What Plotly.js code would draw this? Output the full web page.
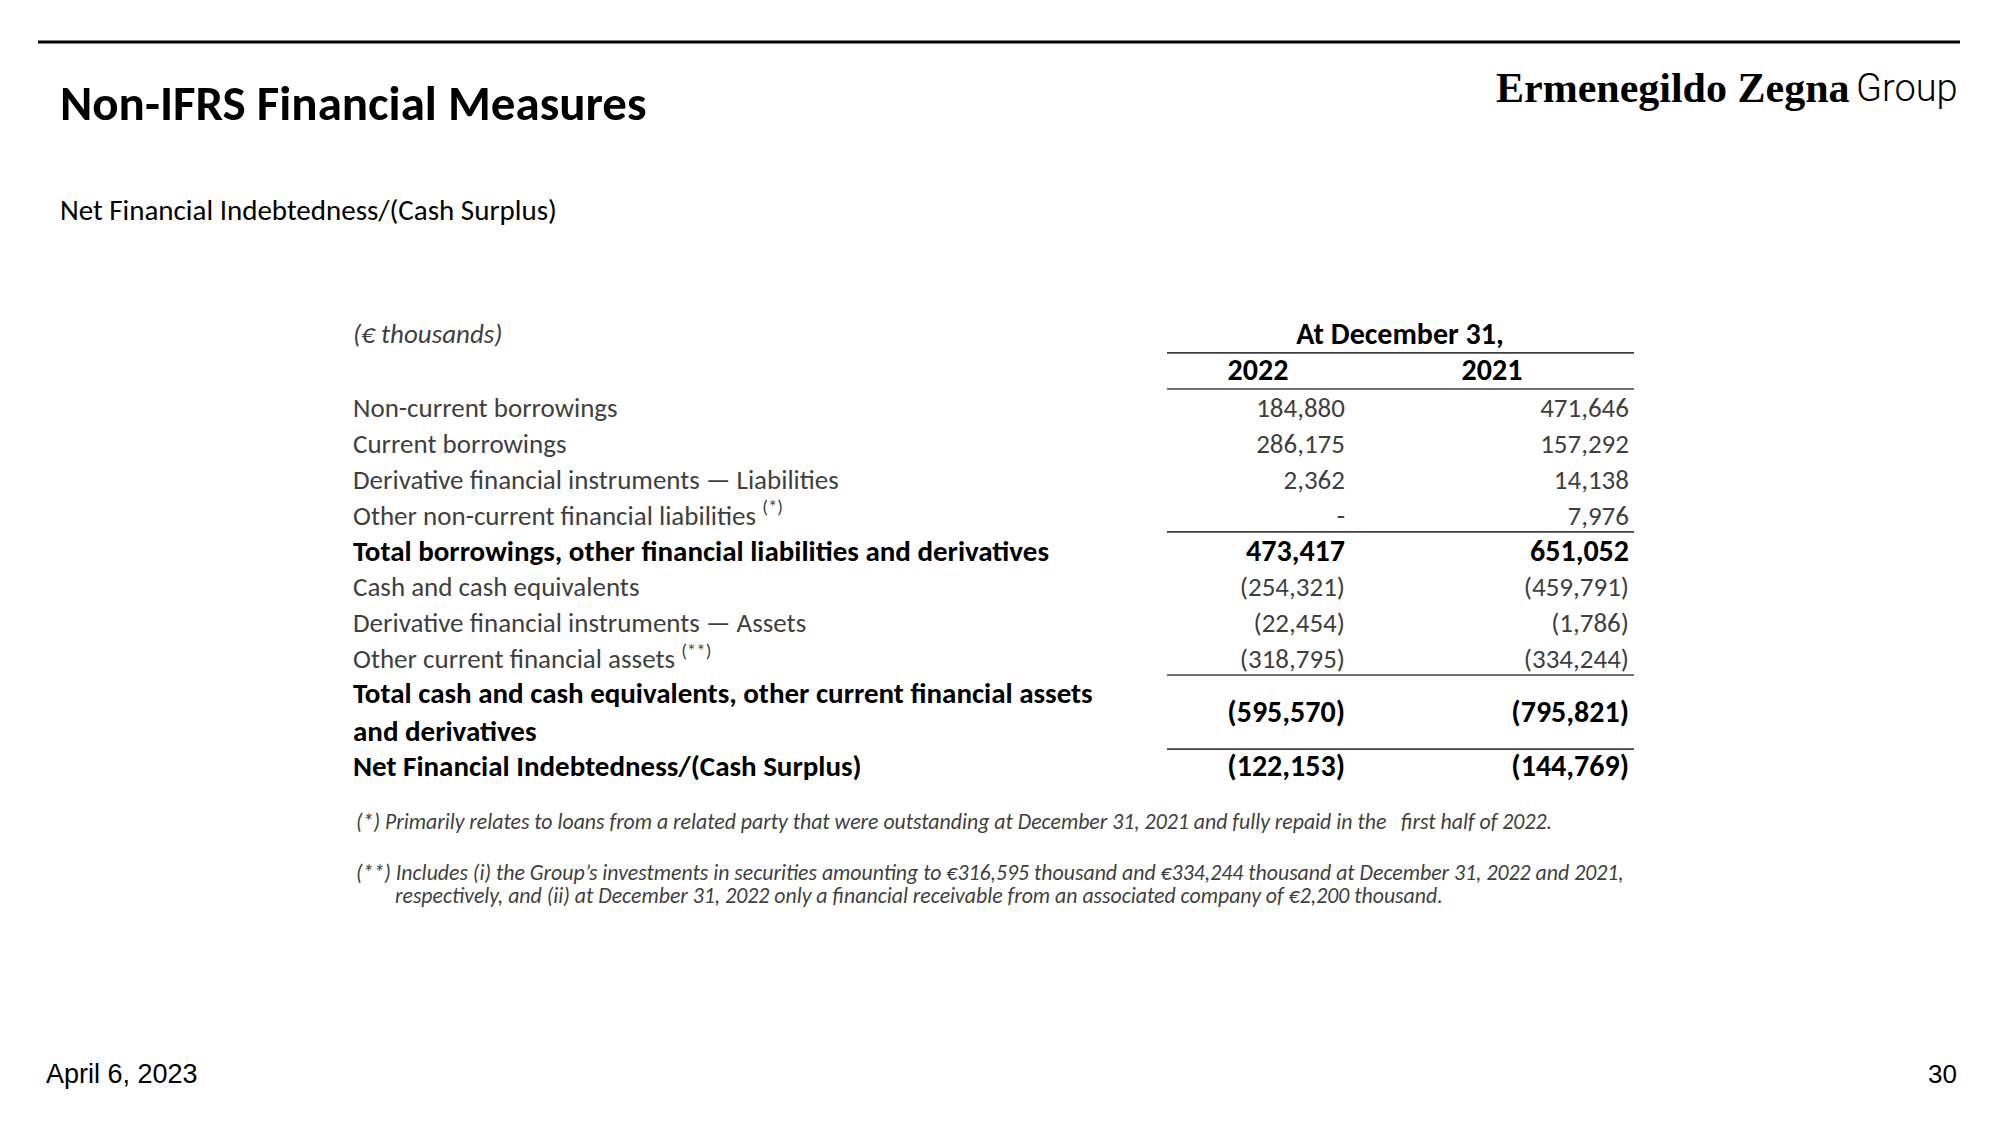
<!DOCTYPE html>
<html>
<head>
<meta charset="utf-8">
<script src="https://cdn.plot.ly/plotly-3.0.1.min.js"></script>
<style>body{margin:0;background:#fff}</style>
</head>
<body>
<div id="chart" style="width:2000px;height:1125px"></div>
<script>
// table content (€ thousands)
var rowLabels = [
    'Non-current borrowings',
    'Current borrowings',
    'Derivative financial instruments \u2014 Liabilities',
    'Other non-current financial liabilities <sup>(*)</sup>',
    'Total borrowings, other financial liabilities and derivatives',
    'Cash and cash equivalents',
    'Derivative financial instruments \u2014 Assets',
    'Other current financial assets <sup>(**)</sup>',
    'Total cash and cash equivalents, other current financial assets<br>and derivatives',
    'Net Financial Indebtedness/(Cash Surplus)'
];
var rowBold = [false, false, false, false, true, false, false, false, true, true];
var rowPos = [0, 1, 2, 3, 4, 5, 6, 7, 8.5, 10];
var years = ['2022', '2021'];
var values2022 = [184880, 286175, 2362, null, 473417, -254321, -22454, -318795, -595570, -122153];
var values2021 = [471646, 157292, 14138, 7976, 651052, -459791, -1786, -334244, -795821, -144769];
var ruleRows = [-1.61, -0.60, 3.39, 7.39, 9.46];

var note1 = '(*) Primarily relates to loans from a related party that were outstanding at December 31, 2021 and fully repaid in the   first half of 2022.';
var note2a = '(**) Includes (i) the Group\u2019s investments in securities amounting to \u20ac316,595 thousand and \u20ac334,244 thousand at December 31, 2022 and 2021,';
var note2b = 'respectively, and (ii) at December 31, 2022 only a financial receivable from an associated company of \u20ac2,200 thousand.';

var FONT = 'Carlito, Calibri, Lato, sans-serif';
var GREY = '#3f3f3f';

function fmt(v) {
    if (v === null) return '-';
    var s = Math.abs(v).toLocaleString('en-US');
    return v < 0 ? '(' + s + ')' : s;
}
function wrap(t, b) { return b ? '<b>' + t + '</b>' : t; }
function colors() { return rowBold.map(function(b) { return b ? '#000' : GREY; }); }
function sizes(reg, bld) { return rowBold.map(function(b) { return b ? bld : reg; }); }

var labelX = 353, col1X = 1345, col2X = 1629, yearX = [1258, 1492];

var labels = {
    type: 'scatter', mode: 'text',
    x: rowLabels.map(function() { return labelX; }),
    y: rowPos,
    text: rowLabels.map(function(t, i) { return wrap(t, rowBold[i]); }),
    textposition: 'middle right',
    textfont: {family: FONT, size: sizes(27, 29), color: colors()},
    hoverinfo: 'skip'
};
var col1 = {
    type: 'scatter', mode: 'text',
    x: rowPos.map(function() { return col1X; }),
    y: rowPos,
    text: values2022.map(function(v, i) { return wrap(fmt(v), rowBold[i]); }),
    textposition: 'middle left',
    textfont: {family: FONT, size: sizes(27, 30), color: colors()},
    hoverinfo: 'skip'
};
var col2 = {
    type: 'scatter', mode: 'text',
    x: rowPos.map(function() { return col2X; }),
    y: rowPos,
    text: values2021.map(function(v, i) { return wrap(fmt(v), rowBold[i]); }),
    textposition: 'middle left',
    textfont: {family: FONT, size: sizes(27, 30), color: colors()},
    hoverinfo: 'skip'
};
var header = {
    type: 'scatter', mode: 'text',
    x: [labelX, 1400, yearX[0], yearX[1]],
    y: [-2.08, -2.08, -1.05, -1.05],
    text: ['<i>(\u20ac thousands)</i>', '<b>At December 31,</b>', '<b>' + years[0] + '</b>', '<b>' + years[1] + '</b>'],
    textposition: ['middle right', 'middle center', 'middle center', 'middle center'],
    textfont: {family: FONT, size: [27, 30, 30, 30], color: [GREY, '#000', '#000', '#000']},
    hoverinfo: 'skip'
};

function px(x) { return x / 2000; }
function py(y) { return 1 - y / 1125; }

var shapes = ruleRows.map(function(r) {
    return {type: 'line', xref: 'x', yref: 'y', x0: 1167, x1: 1634, y0: r, y1: r,
            line: {color: '#404040', width: 1.6}};
});
shapes.push({type: 'line', xref: 'paper', yref: 'paper', x0: px(38), x1: px(1960), y0: py(42), y1: py(42),
             line: {color: '#000', width: 3}});

var annotations = [
    {text: '<b>Non-IFRS Financial Measures</b>', x: px(58), y: py(103), xanchor: 'left', yanchor: 'middle',
     font: {family: FONT, size: 49, color: '#000'}},
    {text: 'Net Financial Indebtedness/(Cash Surplus)', x: px(58), y: py(210), xanchor: 'left', yanchor: 'middle',
     font: {family: FONT, size: 29, color: '#000'}},
    {text: '<b>Ermenegildo Zegna</b>', x: px(1852), y: py(88), xanchor: 'right', yanchor: 'middle',
     font: {family: 'Liberation Serif, serif', size: 42, color: '#000'}},
    {text: 'Group', x: px(1960), y: py(88), xanchor: 'right', yanchor: 'middle',
     font: {family: 'Roboto, sans-serif', size: 38, color: '#000', weight: 300}},
    {text: '<i>' + note1 + '</i>', x: px(354), y: py(821), xanchor: 'left', yanchor: 'middle',
     font: {family: FONT, size: 21.8, color: GREY}},
    {text: '<i>' + note2a + '</i>', x: px(354), y: py(872), xanchor: 'left', yanchor: 'middle',
     font: {family: FONT, size: 21.8, color: GREY}},
    {text: '<i>' + note2b + '</i>', x: px(393), y: py(895), xanchor: 'left', yanchor: 'middle',
     font: {family: FONT, size: 21.8, color: GREY}},
    {text: 'April 6, 2023', x: px(44), y: py(1074), xanchor: 'left', yanchor: 'middle',
     font: {family: 'Liberation Sans, Arial, sans-serif', size: 27, color: '#000'}},
    {text: '30', x: px(1959), y: py(1074), xanchor: 'right', yanchor: 'middle',
     font: {family: 'Liberation Sans, Arial, sans-serif', size: 26, color: '#000'}}
];
annotations.forEach(function(a) { a.xref = 'paper'; a.yref = 'paper'; a.showarrow = false; });

var layout = {
    width: 2000, height: 1125,
    margin: {l: 0, r: 0, t: 0, b: 0},
    paper_bgcolor: '#fff', plot_bgcolor: '#fff',
    showlegend: false, hovermode: false,
    xaxis: {range: [0, 2000], visible: false, fixedrange: true},
    yaxis: {range: [(1125 - 410.5) / 35.8, -410.5 / 35.8], visible: false, fixedrange: true},
    shapes: shapes,
    annotations: annotations
};

Plotly.newPlot('chart', [labels, col1, col2, header], layout, {staticPlot: true});
</script>
</body>
</html>
